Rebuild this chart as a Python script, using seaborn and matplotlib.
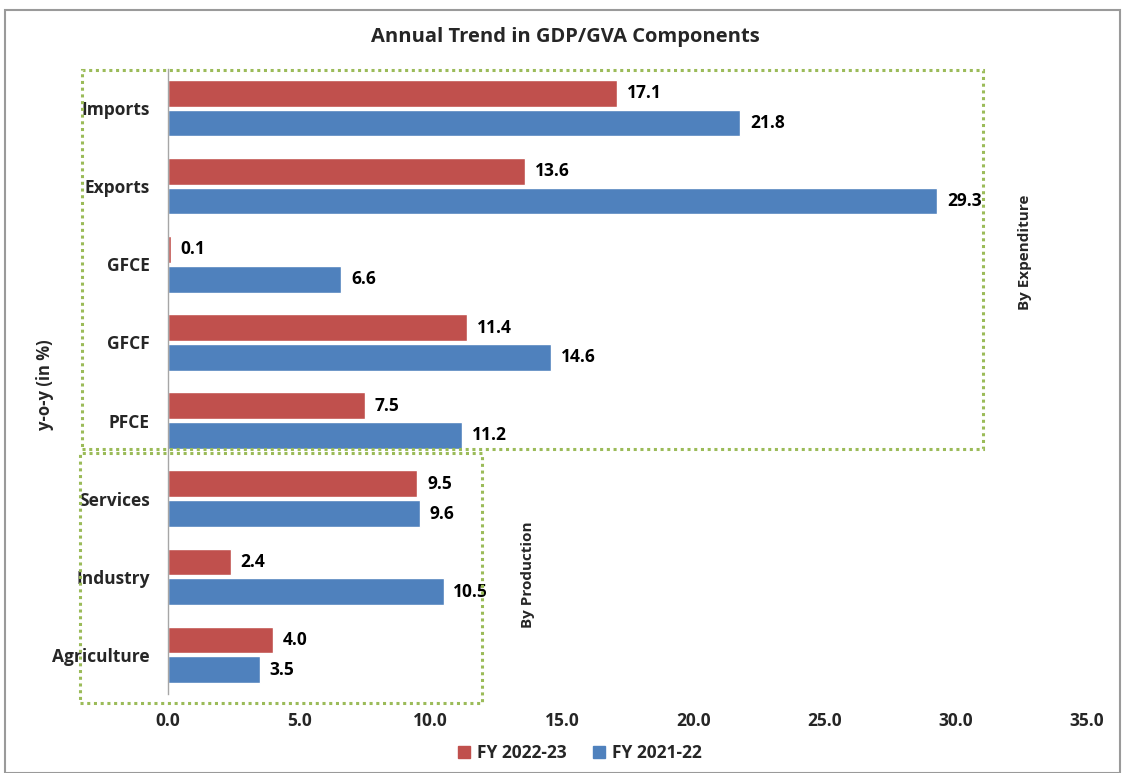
import matplotlib
matplotlib.use("Agg")
import matplotlib.pyplot as plt
import seaborn as sns
import pandas as pd
from matplotlib.patches import Rectangle, Patch

categories = ["Imports", "Exports", "GFCE", "GFCF", "PFCE", "Services", "Industry", "Agriculture"]
fy2223 = [17.1, 13.6, 0.1, 11.4, 7.5, 9.5, 2.4, 4.0]
fy2122 = [21.8, 29.3, 6.6, 14.6, 11.2, 9.6, 10.5, 3.5]
series_names = ["FY 2022-23", "FY 2021-22"]
xticks = [0, 5, 10, 15, 20, 25, 30, 35]

df = pd.DataFrame({
    "Component": categories * 2,
    "Value": fy2223 + fy2122,
    "Series": [series_names[0]] * len(categories) + [series_names[1]] * len(categories),
})

sns.set_theme(style="white")
plt.rcParams['font.family'] = ['Open Sans', 'DejaVu Sans']

fig = plt.figure(figsize=(11.27, 7.73), dpi=100)
ax = fig.add_axes([168/1127, 1-694/773, (1087-168)/1127, (694-69)/773])

palette = {"FY 2022-23": "#C0504D", "FY 2021-22": "#4F81BD"}
sns.barplot(data=df, y="Component", x="Value", hue="Series", orient="h",
            palette=palette, width=0.76, gap=0.1, saturation=1, ax=ax, legend=False)

for cont in ax.containers:
    ax.bar_label(cont, fmt="%.1f", padding=7, fontsize=12.5, fontweight="bold", color="black")

ax.set_xlim(0, 35)
ax.set_xticks(xticks)
ax.set_xticklabels([f"{t:.1f}" for t in xticks], fontsize=12.5, fontweight="bold")
ax.set_yticklabels(categories, fontsize=12.5, fontweight="bold")
ax.tick_params(axis="y", length=0, pad=13)
ax.tick_params(axis="x", length=0, pad=13)
ax.set_xlabel("")
ax.set_ylabel("")
for s in ["top", "right", "bottom"]:
    ax.spines[s].set_visible(False)
ax.spines["left"].set_color("#A6A6A6")
ax.spines["left"].set_linewidth(1)

# Figure frame
fig.patches.append(Rectangle((5/1127, 0), 1115/1127, 1-10/773, transform=fig.transFigure,
                             fill=False, edgecolor="#9A9A9A", linewidth=1.5))

# Dotted group boxes
def fig_rect(x0, y0, x1, y1):
    return Rectangle((x0/1127, 1-y1/773), (x1-x0)/1127, (y1-y0)/773,
                     transform=fig.transFigure, fill=False, edgecolor="#9BBB59",
                     linewidth=2.2, linestyle=(0, (1, 1.2)))
fig.patches.append(fig_rect(82, 70, 983, 449))
fig.patches.append(fig_rect(80, 453, 482, 703))

fig.text(565/1127, 1-37/773, "Annual Trend in GDP/GVA Components", ha="center", va="center",
         fontsize=14.5, fontweight="bold")
fig.text(45/1127, 1-385/773, "y-o-y (in %)", rotation=90, ha="center", va="center",
         fontsize=12, fontweight="bold")
fig.text(1025/1127, 1-252/773, "By Expenditure", rotation=90, ha="center", va="center",
         fontsize=11, fontweight="bold")
fig.text(528/1127, 1-575/773, "By Production", rotation=90, ha="center", va="center",
         fontsize=11, fontweight="bold")

handles = [Patch(color=palette[n], label=n) for n in series_names]
fig.legend(handles=handles, loc="center", bbox_to_anchor=(580/1127, 1-753/773), ncol=2,
           frameon=False, handlelength=0.7, handleheight=0.7, handletextpad=0.4,
           columnspacing=1.5, prop={"size": 12.5, "weight": "bold"})

fig.savefig("out.png", dpi=100)
